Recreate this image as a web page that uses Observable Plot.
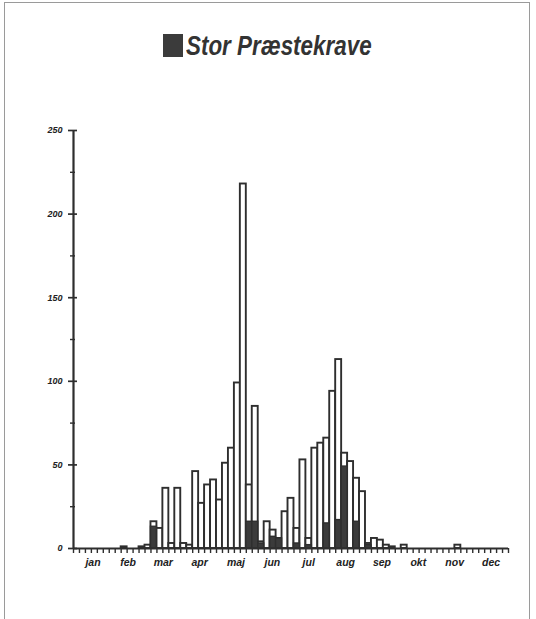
<!DOCTYPE html>
<html>
<head>
<meta charset="utf-8">
<script src="https://cdn.jsdelivr.net/npm/d3@7"></script>
<script src="https://cdn.jsdelivr.net/npm/@observablehq/plot@0.6"></script>
<style>
  html, body { margin: 0; padding: 0; background: #fff; }
  #page { position: relative; width: 536px; height: 619px; overflow: hidden; }
  #frame { position: absolute; left: 4px; top: 2px; width: 526px; height: 640px; border: 1px solid #9a9a9a; box-sizing: border-box; pointer-events: none; }
  #title { position: relative; height: 70px; }
  #swatch { position: absolute; left: 163px; top: 34px; width: 20px; height: 23px; background: #3b3b3b; }
  #titletext { position: absolute; left: 186px; top: 33px; font: italic bold 27px "Liberation Sans", Arial, sans-serif; line-height: 1; color: #333; transform: scaleX(0.83); transform-origin: left top; white-space: nowrap; }
  #chart svg { display: block; }
</style>
</head>
<body>
<div id="page">
  <div id="frame"></div>
  <div id="title"><div id="swatch"></div><div id="titletext">Stor Præstekrave</div></div>
  <div id="chart"></div>
</div>
<script>
// 73 five-day periods (pentads) through the year
const months = ["jan", "feb", "mar", "apr", "maj", "jun", "jul", "aug", "sep", "okt", "nov", "dec"];
const monthDays = [31, 28, 31, 30, 31, 30, 31, 31, 30, 31, 30, 31];

// White (open) bars
const pentadTotals = [
  0, 0, 0, 0, 0, 0, 0, 0, 1, 0,
  0, 1, 2, 16, 12, 36, 3, 36, 3, 2,
  46, 27, 38, 41, 29, 51, 60, 99, 218, 38,
  85, 4, 16, 11, 6, 22, 30, 12, 53, 6,
  60, 63, 66, 94, 113, 57, 52, 42, 34, 3,
  6, 5, 2, 1, 0, 2, 0, 0, 0, 0,
  0, 0, 0, 0, 2, 0, 0, 0, 0, 0,
  0, 0, 0
];
// Black (filled) bars: Stor Præstekrave
const praestekrave = [
  0, 0, 0, 0, 0, 0, 0, 0, 0, 0,
  0, 0, 0, 13, 0, 0, 0, 0, 0, 0,
  0, 0, 0, 0, 0, 0, 0, 0, 0, 16,
  16, 3, 0, 7, 6, 0, 0, 3, 0, 2,
  0, 0, 15, 0, 17, 49, 0, 16, 0, 2,
  0, 0, 0, 0, 0, 0, 0, 0, 0, 0,
  0, 0, 0, 0, 0, 0, 0, 0, 0, 0,
  0, 0, 0
];
const yTicks = [0, 50, 100, 150, 200, 250];
const yMinorTicks = [25, 75, 125, 175, 225];

const nPentads = pentadTotals.length;
const data = pentadTotals.map((v, i) => ({i, total: v, black: praestekrave[i]}));
const blackData = data.filter(d => d.black > 0);
const pentadEdges = d3.range(0, nPentads + 1);

// month label positions (mid-month, in pentads)
const starts = d3.cumsum([0, ...monthDays]);
const monthLabels = months.map((m, k) => ({m, x: (starts[k] + monthDays[k] / 2) / 5}));

const ink = "#2e2e2e";
const fontFam = "'Liberation Sans', Arial, sans-serif";

const chart = Plot.plot({
  width: 536,
  height: 549,
  marginLeft: 73,
  marginRight: 28,
  marginTop: 60,
  marginBottom: 71,
  x: {domain: [0, nPentads], axis: null},
  y: {domain: [0, 250], axis: null},
  style: {fontFamily: fontFam, background: "transparent"},
  marks: [
    Plot.rectY(data, {x1: "i", x2: d => d.i + 1, y: "total", fill: "white", stroke: ink, strokeWidth: 1.9}),
    Plot.rectY(blackData, {x1: "i", x2: d => d.i + 1, y: "black", fill: "#3b3b3b", stroke: ink, strokeWidth: 1.4}),
    Plot.ruleX(pentadEdges, {x: d => d, y1: 0, y2: 0, insetBottom: -5, stroke: ink, strokeWidth: 1.4}),
    Plot.ruleX([0], {y1: 0, y2: 250, stroke: ink, strokeWidth: 2.2}),
    Plot.ruleY([0], {x1: 0, x2: nPentads, stroke: ink, strokeWidth: 2.2}),
    Plot.ruleY(yTicks, {y: d => d, x1: 0, x2: 0, insetLeft: -5, insetRight: -4, stroke: ink, strokeWidth: 1.7}),
    Plot.ruleY(yMinorTicks, {y: d => d, x1: 0, x2: 0, insetLeft: -3, insetRight: -2, stroke: ink, strokeWidth: 1.4}),
    Plot.text(yTicks, {x: 0, y: d => d, text: d => String(d), textAnchor: "end", dx: -11, fontSize: 9, fontWeight: "bold", fontStyle: "italic", fill: "#222"}),
    Plot.text(monthLabels, {x: "x", y: 0, text: "m", dy: 14, dx: 1, fontSize: 10.5, fontWeight: "bold", fontStyle: "italic", fill: "#222"})
  ]
});
document.getElementById("chart").appendChild(chart);
</script>
</body>
</html>
